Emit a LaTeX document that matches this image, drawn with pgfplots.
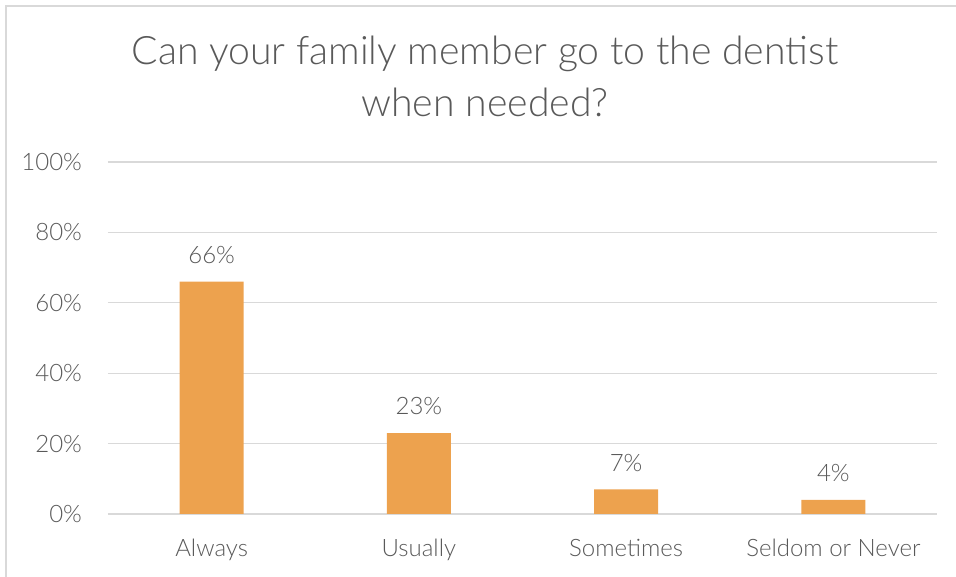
\documentclass[border=0pt]{standalone}
\usepackage{fontspec}
\setmainfont{Lato Light}
\usepackage{pgfplots}
\pgfplotsset{compat=1.18}
\definecolor{barc}{HTML}{EDA24E}
\definecolor{txt}{HTML}{595959}
\definecolor{gridc}{HTML}{D9D9D9}
\begin{document}
\begin{tikzpicture}[x=0.75pt,y=0.75pt]
\useasboundingbox (0,0) rectangle (956,577);
\draw[gridc,line width=1pt] (6,0) -- (6,571) -- (956,571);
\node[anchor=base,txt,font=\fontsize{29.4}{32}\selectfont] at (485,512) {Can your family member go to the dentist};
\node[anchor=base,txt,font=\fontsize{29.4}{32}\selectfont] at (485,460) {when needed?};
\begin{axis}[
  at={(81pt,47.25pt)}, anchor=south west,
  scale only axis, width=621.75pt, height=264pt,
  xmin=-0.5, xmax=3.5, ymin=0, ymax=100,
  axis line style={draw=none}, tick style={draw=none},
  ymajorgrids, grid style={gridc,line width=1pt},
  ytick={0,20,40,60,80,100},
  yticklabel={\pgfmathprintnumber{\tick}\%},
  yticklabel style={txt,font=\fontsize{18}{20}\selectfont,xshift=-16pt},
  xtick=data,
  xticklabels={Always,Usually,Sometimes,Seldom or Never},
  xticklabel style={txt,font=\fontsize{18}{20}\selectfont,yshift=-11pt},
  /pgf/number format/assume math mode=true,
  ybar, bar width=48pt,
  nodes near coords={\pgfmathprintnumber{\pgfplotspointmeta}\%},
  nodes near coords style={txt,font=\fontsize{18}{20}\selectfont,yshift=10pt},
]
\addplot[fill=barc,draw=none] coordinates {(0,66) (1,23) (2,7) (3,4)};
\end{axis}
\end{tikzpicture}
\end{document}
